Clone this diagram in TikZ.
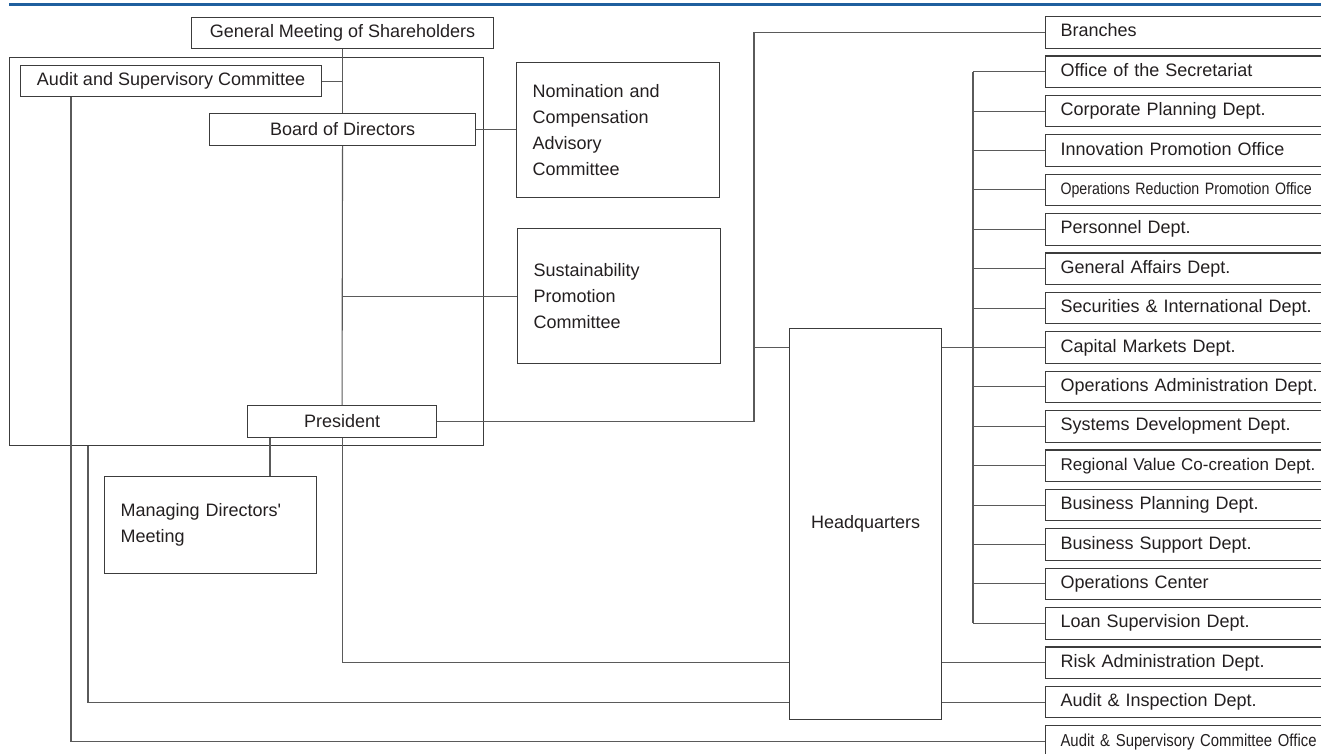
\documentclass[tikz,border=0pt]{standalone}
\usepackage{fontspec}
\setmainfont{Liberation Sans}
\newfontfamily\narrowfont{Liberation Sans}[FakeStretch=0.86]
\usepackage{xcolor}
\usepackage{tikz}
\definecolor{ink}{HTML}{231F20}
\definecolor{rule}{HTML}{5A5A5A}
\definecolor{frame}{HTML}{3C3C3C}
\definecolor{topblue}{HTML}{1F5F9E}

\begin{document}
\begin{tikzpicture}[x=1pt, y=-1pt,
  box/.style={draw=frame, line width=1.1pt, inner sep=0pt, anchor=north west, text=ink, font=\fontsize{18}{26}\selectfont},
  panel/.style={box, inner xsep=16pt, align=left},
  dept/.style={box, minimum height=31.5pt, text width=270pt, inner xsep=15pt, align=left, text height=13pt, text depth=4pt},
  link/.style={draw=rule, line width=1.1pt}]
  \useasboundingbox (0,0) rectangle (1321,753);
  \clip (0,0) rectangle (1321,753);

  % Header rule
  \draw[topblue, line width=2.8pt] (9,4.7) -- (1321,4.7);

  % Governance block
  \node[box, minimum width=474pt, minimum height=388pt] (govbox) at (9,57) {};
  \node[box, minimum width=302pt, minimum height=31pt] (gm) at (191,17) {General Meeting of Shareholders};
  \node[box, minimum width=301pt, minimum height=31pt] (asc) at (20,65) {Audit and Supervisory Committee};
  \node[box, minimum width=266pt, minimum height=32pt] (board) at (209,113) {Board of Directors};
  \node[box, minimum width=189pt, minimum height=32pt] (pres) at (247,405) {President};

  % Committees
  \node[panel, text width=171pt, minimum height=135pt] (nom) at (516,62) {Nomination and\\Compensation\\Advisory\\Committee};
  \node[panel, text width=171pt, minimum height=135pt] (sus) at (517,228) {Sustainability\\Promotion\\Committee};
  \node[panel, text width=180pt, minimum height=97pt] (mdm) at (104,476) {Managing Directors\textquotesingle\\Meeting};

  % Headquarters
  \node[box, minimum width=152pt, minimum height=391pt] (hq) at (789,328) {Headquarters};

  % Branches and departments (right edge runs off the page)
  \node[dept] (r0) at (1045,16) {Branches};
  \node[dept] (r1) at (1045,55.4) {Office of the Secretariat};
  \node[dept] (r2) at (1045,94.8) {Corporate Planning Dept.};
  \node[dept] (r3) at (1045,134.2) {Innovation Promotion Office};
  \node[dept, font=\narrowfont\fontsize{16.5}{18}\selectfont] (r4) at (1045,173.6) {Operations Reduction Promotion Office};
  \node[dept] (r5) at (1045,213) {Personnel Dept.};
  \node[dept] (r6) at (1045,252.4) {General Affairs Dept.};
  \node[dept] (r7) at (1045,291.8) {Securities \& International Dept.};
  \node[dept] (r8) at (1045,331.2) {Capital Markets Dept.};
  \node[dept] (r9) at (1045,370.6) {Operations Administration Dept.};
  \node[dept] (r10) at (1045,410) {Systems Development Dept.};
  \node[dept, font=\fontsize{17}{20}\selectfont] (r11) at (1045,449.4) {Regional Value Co-creation Dept.};
  \node[dept] (r12) at (1045,488.8) {Business Planning Dept.};
  \node[dept] (r13) at (1045,528.2) {Business Support Dept.};
  \node[dept] (r14) at (1045,567.6) {Operations Center};
  \node[dept] (r15) at (1045,607) {Loan Supervision Dept.};
  \node[dept] (r16) at (1045,646.4) {Risk Administration Dept.};
  \node[dept] (r17) at (1045,685.8) {Audit \& Inspection Dept.};
  \node[dept, font=\narrowfont\fontsize{17.3}{18}\selectfont] (r18) at (1045,725.2) {Audit \& Supervisory Committee Office};

  % Board links
  \draw[link] (gm.south) -- (board.north);
  \draw[link] (asc.east) -- (asc.east -| gm.south);
  \draw[link] (board.east) -- (board.east -| nom.west);
  \draw[link] (board.south) -- (pres.north);
  \draw[link] (sus.west) -- (sus.west -| board.south);
  \draw[link] ([xshift=23pt]pres.south west) -- ([xshift=23pt]pres.south west |- mdm.north);

  % President to branches and headquarters
  \coordinate (tk) at (754,0);
  \draw[link] (pres.east) -| (tk |- r8.west) |- (r0.west);
  \draw[link] (tk |- r8.west) -- (hq.west |- r8.west);

  % Headquarters bus
  \coordinate (bus) at (973,0);
  \draw[link] (bus |- r1.west) -- (bus |- r15.west);
  \draw[link] (hq.east |- r8.west) -- (r8.west);
  \draw[link] (bus |- r1.west) -- (r1.west) (bus |- r2.west) -- (r2.west)
    (bus |- r3.west) -- (r3.west) (bus |- r4.west) -- (r4.west)
    (bus |- r5.west) -- (r5.west) (bus |- r6.west) -- (r6.west)
    (bus |- r7.west) -- (r7.west) (bus |- r9.west) -- (r9.west)
    (bus |- r10.west) -- (r10.west) (bus |- r11.west) -- (r11.west)
    (bus |- r12.west) -- (r12.west) (bus |- r13.west) -- (r13.west)
    (bus |- r14.west) -- (r14.west) (bus |- r15.west) -- (r15.west);
  \draw[link] (hq.east |- r16.west) -- (r16.west);
  \draw[link] (hq.east |- r17.west) -- (r17.west);

  % Reporting lines along the bottom
  \draw[link] (pres.south) |- (hq.west |- r16.west);
  \draw[link] ([xshift=79pt]govbox.south west) |- (hq.west |- r17.west);
  \draw[link] ([xshift=51pt]asc.south west) |- (r18.west);
\end{tikzpicture}
\end{document}
